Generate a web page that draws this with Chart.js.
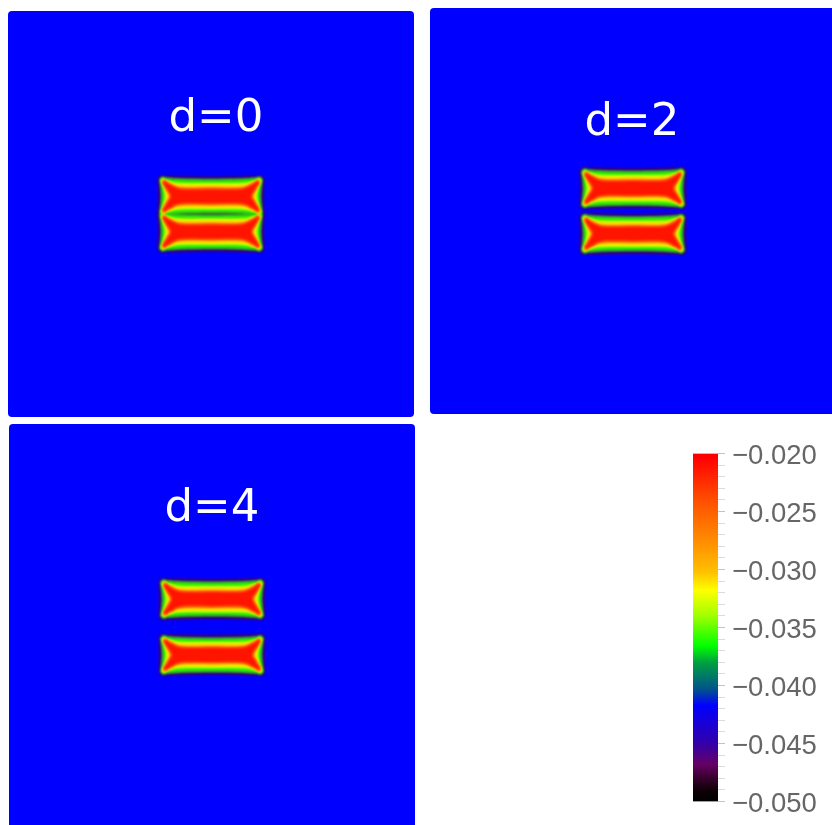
<!DOCTYPE html>
<html>
<head>
<meta charset="utf-8">
<script src="https://cdn.jsdelivr.net/npm/chart.js@4.4.1/dist/chart.umd.min.js"></script>
<style>
    html, body { margin: 0; padding: 0; width: 832px; height: 825px; overflow: hidden; background: #fff; }
    .panel { position: absolute; width: 406px; height: 406px; border-radius: 4px; overflow: hidden; background: #0000ff; }
    #p1 { left: 8px; top: 11px; }
    #p2 { left: 430px; top: 8px; }
    #p3 { left: 9px; top: 424px; }
    #cbox { position: absolute; left: 680px; top: 430px; width: 152px; height: 395px; }
</style>
</head>
<body>
<div class="panel" id="p1"><canvas id="c1" width="406" height="406"></canvas></div>
<div class="panel" id="p2"><canvas id="c2" width="406" height="406"></canvas></div>
<div class="panel" id="p3"><canvas id="c3" width="406" height="406"></canvas></div>
<div id="cbox"><canvas id="cb" width="152" height="395"></canvas></div>
<script>
// panels
var panelTitles = ['d=0', 'd=2', 'd=4'];
var separations = [0, 2, 4];
var barHalfHeight = 3.5;

// contour bands of one bar, outside -> inside
// each is the top-right quarter of the outline, from top middle to right middle
var layerColors = ['rgba(70,0,90,0.75)', '#30f000', '#ffff00', '#ff9a00', '#ff1400'];
var layerQuarters = [
    [[0, 3.85], [9.3, 4.0], [10.25, 3.85], [10.45, 3.0], [10.35, 0]],
    [[0, 3.25], [6.0, 3.35], [8.8, 3.55], [9.6, 3.75], [10.05, 3.35], [9.95, 2.6], [9.7, 0]],
    [[0, 2.4], [6.5, 2.45], [8.7, 3.0], [9.45, 3.4], [9.8, 3.1], [9.3, 1.7], [8.9, 0]],
    [[0, 1.9], [6.4, 1.95], [8.6, 2.75], [9.35, 3.2], [9.6, 2.9], [8.9, 1.4], [8.4, 0]],
    [[0, 1.4], [6.2, 1.45], [8.4, 2.45], [9.2, 3.0], [9.4, 2.65], [8.5, 1.1], [7.9, 0]]
];

// colour bar
var colorMin = -0.050;
var colorMax = -0.020;
var colorStopValues = [-0.0500, -0.0490, -0.0479, -0.0468, -0.0450, -0.0417, -0.0404, -0.0390, -0.0380, -0.0366, -0.0340, -0.0318, -0.0302, -0.0275, -0.0241, -0.0203];
var colorStopColors = ['#000000', '#100008', '#3a0030', '#660066', '#3300aa', '#0000ff', '#005090', '#008060', '#00a040', '#00ff00', '#a0ff00', '#ffff00', '#ffc000', '#ff8c00', '#ff5000', '#ff0000'];

function fullOutline(q, cy) {
    var pts = [];
    var i;
    for (i = 0; i < q.length; i++) pts.push({ x: q[i][0], y: cy + q[i][1] });
    for (i = q.length - 2; i >= 0; i--) pts.push({ x: q[i][0], y: cy - q[i][1] });
    for (i = 1; i < q.length; i++) pts.push({ x: -q[i][0], y: cy - q[i][1] });
    for (i = q.length - 2; i >= 0; i--) pts.push({ x: -q[i][0], y: cy + q[i][1] });
    return pts;
}

var blurPlugin = {
    id: 'softBands',
    beforeDatasetsDraw: function (chart) {
        chart.ctx.save();
        chart.ctx.filter = 'blur(1.3px)';
    },
    afterDatasetsDraw: function (chart) {
        chart.ctx.restore();
    }
};

var titlePlugin = {
    id: 'panelTitle',
    afterDraw: function (chart, args, opts) {
        var ctx = chart.ctx;
        var area = chart.chartArea;
        ctx.save();
        ctx.fillStyle = '#ffffff';
        ctx.font = '45px "DejaVu Sans"';
        ctx.textAlign = 'center';
        ctx.textBaseline = 'alphabetic';
        ctx.fillText(opts.text, area.left + area.width / 2 + opts.dx, area.top + opts.y);
        ctx.restore();
    }
};

var titleSpots = [{ dx: 5, y: 120 }, { dx: -1, y: 127 }, { dx: 0, y: 97 }];

function drawPanel(id, k) {
    var offset = barHalfHeight + separations[k] / 2;
    var centres = [offset, -offset];
    var datasets = [];

    layerQuarters.forEach(function (q, li) {
        centres.forEach(function (cy) {
            datasets.push({
                data: fullOutline(q, cy),
                showLine: true,
                fill: 'shape',
                backgroundColor: layerColors[li],
                borderColor: layerColors[li],
                borderWidth: 1,
                pointRadius: 0,
                pointHoverRadius: 0,
                tension: 0.3,
                order: layerQuarters.length - li
            });
        });
    });

    new Chart(document.getElementById(id), {
        type: 'scatter',
        data: { datasets: datasets },
        options: {
            responsive: false,
            animation: false,
            events: [],
            layout: { padding: 0 },
            plugins: {
                legend: { display: false },
                tooltip: { enabled: false },
                panelTitle: { text: panelTitles[k], dx: titleSpots[k].dx, y: titleSpots[k].y }
            },
            scales: {
                x: { type: 'linear', min: -40, max: 40, display: false },
                y: { type: 'linear', min: -40, max: 40, display: false }
            }
        },
        plugins: [blurPlugin, titlePlugin]
    });
}

drawPanel('c1', 0);
drawPanel('c2', 1);
drawPanel('c3', 2);

function barGradient(c) {
    var chart = c.chart;
    if (!chart.chartArea) return null;
    var ys = chart.scales.y;
    var y0 = ys.getPixelForValue(colorMin);
    var y1 = ys.getPixelForValue(colorMax);
    var g = chart.ctx.createLinearGradient(0, y0, 0, y1);
    colorStopValues.forEach(function (v, i) {
        g.addColorStop((v - colorMin) / (colorMax - colorMin), colorStopColors[i]);
    });
    return g;
}

new Chart(document.getElementById('cb'), {
    type: 'bar',
    data: {
        labels: [''],
        datasets: [{
            data: [[colorMin, colorMax]],
            backgroundColor: barGradient,
            borderWidth: 0,
            barPercentage: 1,
            categoryPercentage: 1
        }]
    },
    options: {
        responsive: false,
        animation: false,
        events: [],
        layout: { padding: { left: 13, top: 18, bottom: 17, right: 0 } },
        plugins: { legend: { display: false }, tooltip: { enabled: false } },
        scales: {
            x: { display: false },
            y: {
                position: 'right',
                min: colorMin,
                max: colorMax,
                afterFit: function (s) { s.width = 114; },
                border: { display: false },
                grid: {
                    drawOnChartArea: false,
                    tickLength: 7,
                    tickColor: function (c) {
                        var m = Math.round(Math.abs(c.tick.value) * 1000);
                        return m % 5 === 0 ? '#c4c4c4' : '#dcdcdc';
                    }
                },
                ticks: {
                    stepSize: 0.001,
                    autoSkip: false,
                    padding: 7,
                    labelOffset: 3,
                    color: '#666666',
                    font: { family: '"Liberation Sans", Arial, sans-serif', size: 27.5 },
                    callback: function (v) {
                        var m = Math.round(Math.abs(v) * 1000);
                        if (m % 5 !== 0) return '';
                        return '\u2212' + (m / 1000).toFixed(3);
                    }
                }
            }
        }
    }
});
</script>
</body>
</html>
